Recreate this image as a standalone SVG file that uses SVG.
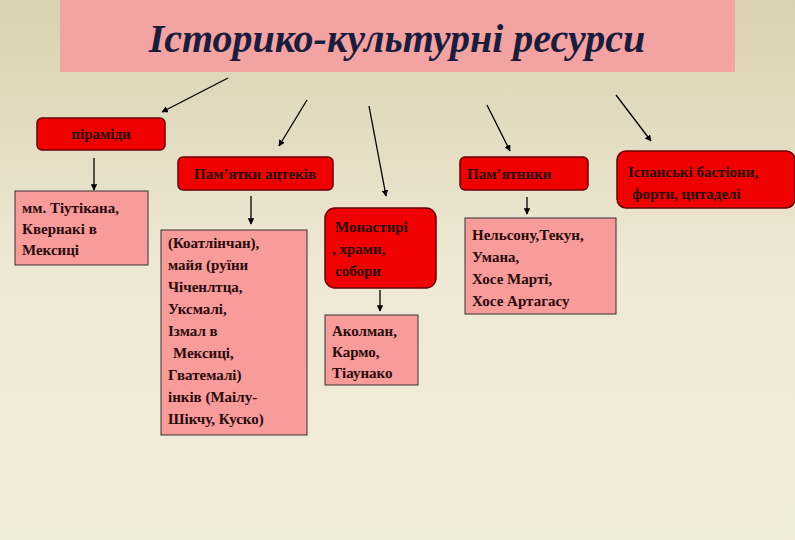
<svg xmlns="http://www.w3.org/2000/svg" width="795" height="540" viewBox="0 0 795 540">
<defs>
<linearGradient id="bg" x1="0" y1="0" x2="0" y2="1"><stop offset="0" stop-color="#d9d1b0"/><stop offset="0.5" stop-color="#efe8d4"/><stop offset="1" stop-color="#f2ecdc"/></linearGradient>
<marker id="ah" viewBox="0 0 10 10" refX="9" refY="5" markerWidth="5" markerHeight="5" orient="auto"><path d="M0,0 L10,5 L0,10 z" fill="#000"/></marker>
<style>
.red{fill:#f00000;stroke:#600;stroke-width:1.5}
.pink{fill:#f79b9b;stroke:#333;stroke-width:1}
text{font-family:"Liberation Serif",serif;font-weight:bold;font-size:15px;fill:#2a0a0a}
.c line{stroke:#000;stroke-width:1.3;marker-end:url(#ah)}
</style>
</defs>
<rect width="795" height="540" fill="url(#bg)"/>
<g id="title"><rect x="60" y="0" width="675" height="72" fill="#f4a3a3"/>
<text x="397" y="52" text-anchor="middle" style="font-size:40px;font-style:italic;fill:#1c1c3c">Історико-культурні ресурси</text></g>
<g class="c">
<line x1="228" y1="78" x2="162" y2="112"/>
<line x1="307" y1="100" x2="279" y2="146"/>
<line x1="369" y1="106" x2="386" y2="196"/>
<line x1="487" y1="105" x2="510" y2="151"/>
<line x1="616" y1="95" x2="651" y2="141"/>
<line x1="94" y1="158" x2="94" y2="190"/>
<line x1="251" y1="196" x2="251" y2="224"/>
<line x1="527" y1="197" x2="527" y2="214"/>
<line x1="380" y1="290" x2="380" y2="311"/>
</g>
<g id="piramidy"><rect class="red" x="37" y="118" width="128" height="32" rx="5"/><text x="101" y="139" text-anchor="middle">піраміди</text></g>
<g id="actec"><rect class="red" x="178" y="157" width="155" height="33" rx="5"/><text x="255" y="179" text-anchor="middle">Пам’ятки ацтеків</text></g>
<g id="pamyat"><rect class="red" x="460" y="157" width="128" height="33" rx="5"/><text x="467" y="179">Пам’ятники</text></g>
<g id="ispan"><rect class="red" x="617" y="151" width="178" height="57" rx="9"/><text x="628" y="177">Іспанські бастіони,</text><text x="632" y="199">форти, цитаделі</text></g>
<g id="monast"><rect class="red" x="325" y="208" width="111" height="80" rx="10"/><text x="335" y="232">Монастирі</text><text x="332" y="254">, храми,</text><text x="335" y="276">собори</text></g>
<g id="tiut"><rect class="pink" x="15" y="191" width="133" height="74"/><text x="22" y="213">мм. Тіутікана,</text><text x="22" y="234">Квернакі в</text><text x="22" y="255">Мексиці</text></g>
<g id="koat"><rect class="pink" x="161" y="230" width="146" height="205"/>
<text x="168" y="248">(Коатлінчан),</text><text x="168" y="270">майя (руїни</text><text x="168" y="292">Чіченлтца,</text><text x="168" y="314">Уксмалі,</text><text x="168" y="336">Ізмал в</text><text x="173" y="358">Мексиці,</text><text x="168" y="380">Гватемалі)</text><text x="168" y="402">інків (Маілу-</text><text x="168" y="424">Шікчу, Куско)</text></g>
<g id="akol"><rect class="pink" x="325" y="315" width="93" height="70"/><text x="332" y="336">Аколман,</text><text x="332" y="357">Кармо,</text><text x="332" y="378">Тіаунако</text></g>
<g id="nels"><rect class="pink" x="465" y="218" width="151" height="96"/><text x="472" y="240">Нельсону,Текун,</text><text x="472" y="262">Умана,</text><text x="472" y="284">Хосе Марті,</text><text x="472" y="306">Хосе Артагасу</text></g>
</svg>
